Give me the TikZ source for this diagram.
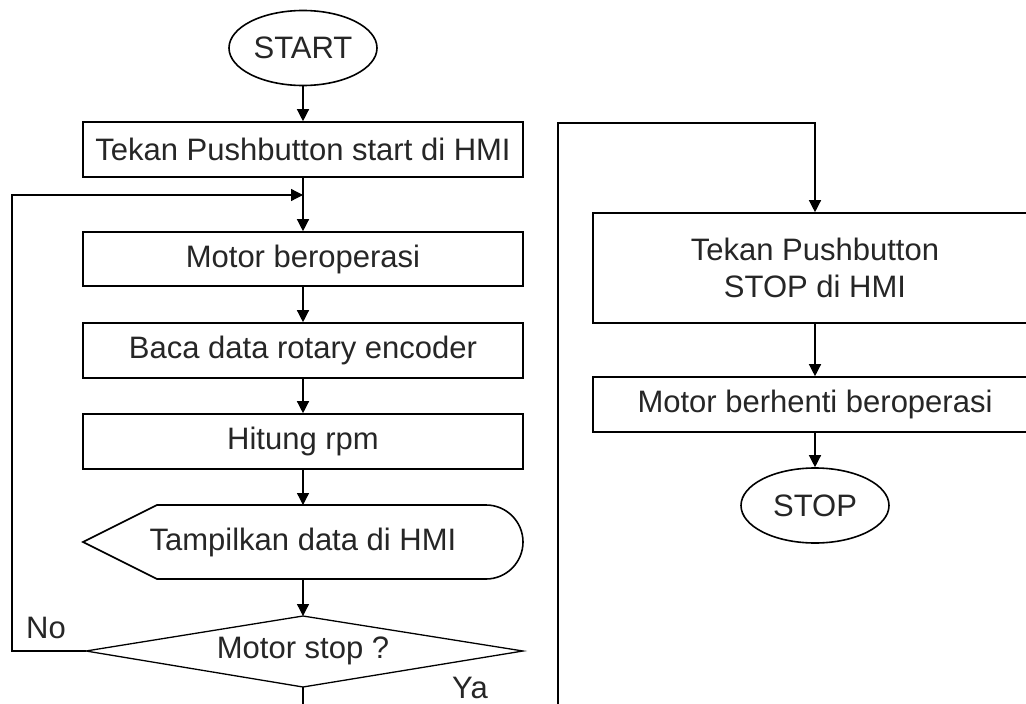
\documentclass[tikz,border=0pt]{standalone}
\usepackage{fontspec}
\setmainfont{Liberation Sans}
\usetikzlibrary{shapes.geometric,arrows.meta}
\begin{document}
\begin{tikzpicture}[x=1pt,y=-1pt,
  txt/.style={font=\fontsize{31}{37}\selectfont, text=black!85},
  box/.style={txt, draw, line width=1.6pt, minimum width=440pt, inner sep=0pt, align=center},
  term/.style={txt, draw, ellipse, line width=1.6pt, minimum width=148pt, minimum height=75pt, inner sep=0pt},
  flow/.style={line width=1.3pt, -{Triangle[length=12pt,width=12pt]}},
  shapeline/.style={line width=1.6pt},
  lbl/.style={txt, inner sep=0pt}
]
\clip (0,0) rectangle (1026,704);
\fill[white] (0,0) rectangle (1026,704);

% left column
\node[term] (start) at (303,48) {START};
\node[box, minimum height=55pt] (b1) at (303,149.5) {Tekan Pushbutton start di HMI};
\node[box, minimum height=54pt] (b2) at (303,259) {Motor beroperasi};
\node[box, minimum height=55pt] (b3) at (303,350.5) {Baca data rotary encoder};
\node[box, minimum height=55pt] (b4) at (303,441.5) {Hitung rpm};

% display shape
\coordinate (dtop) at (303,505);
\coordinate (dbot) at (303,579);
\draw[shapeline] (83,542) -- (157,505) -- (486,505)
  .. controls (506.4,505) and (523,521.6) .. (523,542)
  .. controls (523,562.4) and (506.4,579) .. (486,579)
  -- (157,579) -- cycle;
\node[lbl] (disp) at (303,542) {Tampilkan data di HMI};

% decision
\coordinate (qT) at (303,616);
\coordinate (qL) at (86,651);
\coordinate (qR) at (523,651);
\coordinate (qB) at (303,687);
\draw[shapeline, line width=1.3pt] (qT) -- (qR) -- (qB) -- (qL) -- cycle;
\node[lbl] (dec) at (303,651) {Motor stop ?};

\draw[flow] (start) -- (b1);
\draw[flow] (b1) -- (b2);
\draw[flow] (b2) -- (b3);
\draw[flow] (b3) -- (b4);
\draw[flow] (b4) -- (dtop);
\draw[flow] (dbot) -- (qT);

% No loop
\coordinate (n1) at (12,651);
\coordinate (n2) at (12,195);
\coordinate (m1) at (303,195);
\draw[flow] (qL) -- (n1) -- (n2) -- (m1);
\node[lbl] (no) at (46,628) {No};

% right column
\node[box, minimum width=444pt, minimum height=110pt] (r1) at (815,268) {Tekan Pushbutton\\STOP di HMI};
\node[box, minimum width=444pt, minimum height=55pt] (r2) at (815,404.5) {Motor berhenti beroperasi};
\node[term] (stop) at (815,505.5) {STOP};

\coordinate (y1) at (558,704.6);
\coordinate (y2) at (558,123);
\draw[flow] (qB) |- (y1) -- (y2) -| (r1.north);
\node[lbl] (ya) at (470,688) {Ya};

\draw[flow] (r1) -- (r2);
\draw[flow] (r2) -- (stop);
\end{tikzpicture}
\end{document}
